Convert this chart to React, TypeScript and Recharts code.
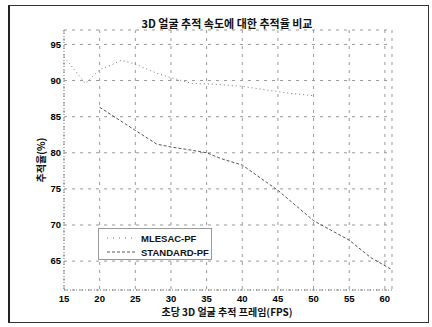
import React from "react";
import { LineChart, Line, XAxis, YAxis, CartesianGrid } from "recharts";

const xTicks = [15, 20, 25, 30, 35, 40, 45, 50, 55, 60];
const yTicks = [65, 70, 75, 80, 85, 90, 95];

const mlesacX = [15, 18, 20, 21.5, 23, 25, 28, 30, 33, 36, 40, 44, 47, 50];
const mlesacY = [93.3, 89.6, 91.5, 92.1, 92.8, 92.3, 91, 90.4, 89.6, 89.5, 89.2, 88.6, 88.2, 87.9];

const standardX = [20, 25, 28, 30, 32, 35, 37, 40, 45, 50, 55, 58, 61];
const standardY = [86.3, 83.1, 81.2, 80.8, 80.5, 80, 79.2, 78.3, 74.8, 70.6, 67.9, 65.5, 63.8];

const mlesac = mlesacX.map((x, i) => ({ x, y: mlesacY[i] }));
const standard = standardX.map((x, i) => ({ x, y: standardY[i] }));

const kFont = "'Noto Sans CJK KR', 'Liberation Sans', sans-serif";
const nFont = "'Liberation Sans', Arial, sans-serif";

export default function App() {
  return (
    <div style={{ position: "absolute", left: 0, top: 0, width: 432, height: 327, background: "#fff" }}>
      <div
        style={{
          position: "absolute",
          left: 8,
          top: 5,
          width: 421,
          height: 318,
          border: "1px solid #333",
          borderLeft: "2px solid #222",
          boxSizing: "border-box",
        }}
      />
      <LineChart
        width={432}
        height={327}
        margin={{ top: 30, right: 40, bottom: 17, left: 34 }}
      >
        <CartesianGrid stroke="#999" strokeDasharray="3 5" />
        <XAxis
          type="number"
          dataKey="x"
          domain={[15, 61]}
          ticks={xTicks}
          allowDataOverflow
          tickLine={false}
          tickSize={0}
          axisLine={{ stroke: "#777", strokeDasharray: "1 2" }}
          height={20}
          tick={{ fill: "#000", fontSize: 9.5, fontWeight: "bold", fontFamily: nFont }}
          tickMargin={5}
        />
        <YAxis
          type="number"
          domain={[61, 97]}
          ticks={yTicks}
          allowDataOverflow
          tickLine={false}
          tickSize={0}
          axisLine={{ stroke: "#777", strokeDasharray: "1 2" }}
          width={30}
          tick={{ fill: "#000", fontSize: 9.5, fontWeight: "bold", fontFamily: nFont }}
          tickMargin={3}
        />
        <Line
          data={mlesac}
          dataKey="y"
          type="linear"
          stroke="#777"
          strokeWidth={1}
          strokeDasharray="1 3"
          dot={false}
          isAnimationActive={false}
        />
        <Line
          data={standard}
          dataKey="y"
          type="linear"
          stroke="#555"
          strokeWidth={1}
          strokeDasharray="3 2"
          dot={false}
          isAnimationActive={false}
        />
      </LineChart>
      <div
        style={{
          position: "absolute",
          left: 0,
          width: 454,
          top: 15,
          textAlign: "center",
          fontFamily: kFont,
          fontSize: 11,
          fontWeight: "bold",
          color: "#111",
        }}
      >
        3D 얼굴 추적 속도에 대한 추적율 비교
      </div>
      <div
        style={{
          position: "absolute",
          left: 41,
          top: 160,
          transform: "translate(-50%, -50%) rotate(-90deg)",
          fontFamily: kFont,
          fontSize: 10,
          fontWeight: "bold",
          whiteSpace: "nowrap",
          color: "#111",
          lineHeight: "12px",
        }}
      >
        추적율(%)
      </div>
      <div
        style={{
          position: "absolute",
          left: 0,
          width: 454,
          top: 306,
          textAlign: "center",
          fontFamily: kFont,
          fontSize: 10,
          fontWeight: "bold",
          color: "#111",
          lineHeight: "12px",
        }}
      >
        초당 3D 얼굴 추적 프레임(FPS)
      </div>
      <div
        style={{
          position: "absolute",
          left: 98,
          top: 228,
          width: 114,
          height: 32,
          border: "1px solid #999",
          background: "#fff",
          boxSizing: "border-box",
        }}
      >
        <svg width={114} height={32} style={{ position: "absolute", left: 0, top: 0 }}>
          <line x1={8} y1={9} x2={38} y2={9} stroke="#777" strokeDasharray="1 5" />
          <line x1={8} y1={23} x2={38} y2={23} stroke="#555" strokeDasharray="3 2" />
          <text x={42} y={12.5} fontFamily={nFont} fontSize={9.5} fontWeight="bold" fill="#111">
            MLESAC-PF
          </text>
          <text x={42} y={26.5} fontFamily={nFont} fontSize={9.5} fontWeight="bold" fill="#111">
            STANDARD-PF
          </text>
        </svg>
      </div>
    </div>
  );
}
